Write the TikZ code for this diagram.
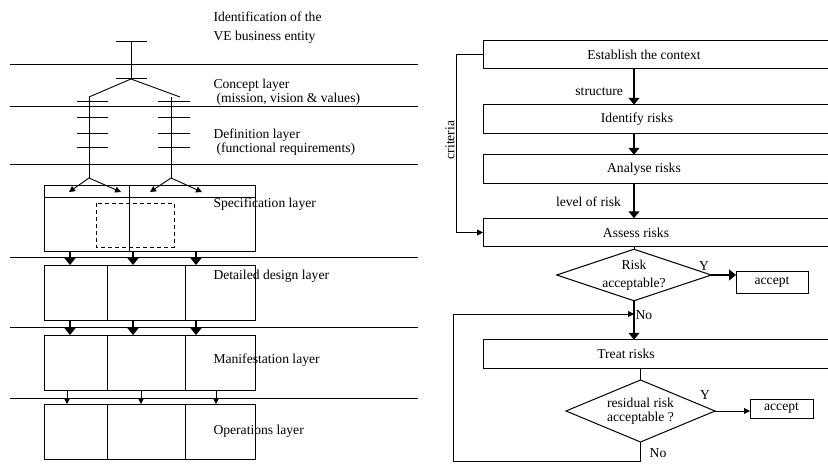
\documentclass[tikz,border=0pt]{standalone}
\usepackage{fontspec}
\setmainfont{Liberation Serif}
\usetikzlibrary{shapes.geometric, arrows.meta, positioning, calc}

\begin{document}
\begin{tikzpicture}[
    x=1pt, y=-1pt,
    font=\fontsize{13.6}{14}\selectfont,
    layerline/.style={line width=0.8pt},
    tree/.style={line width=0.9pt},
    cell/.style={draw, line width=1pt, anchor=north west, inner sep=0pt, outer sep=0pt, minimum height=55.5pt},
    stepbox/.style={draw, line width=1pt, minimum width=347pt, minimum height=28.5pt, inner sep=0pt, outer sep=0pt},
    decision/.style={draw, diamond, line width=1pt, aspect=3, inner sep=0pt, outer sep=0pt, align=center},
    acceptbox/.style={draw, line width=1pt, inner sep=0pt, outer sep=0pt},
    lbl/.style={inner sep=1pt},
    arrow/.style={-{Triangle[width=11pt,length=7pt]}, line width=1.3pt},
    smallarrow/.style={-{Triangle[width=6pt,length=6pt]}, line width=0.9pt}
]
    \useasboundingbox (0,0) rectangle (828,464);

    % Layer boundaries
    \foreach \y in {64,106,164,257,327,398}
        \draw[layerline] (10,\y) -- (418,\y);

    % Layer names
    \node[anchor=west, align=left] (ident) at (210,27.5) {Identification of the\\[5pt]VE business entity};
    \node[anchor=west, align=left] (concept) at (210,92) {Concept layer\\\hspace*{3pt}(mission, vision \& values)};
    \node[anchor=west, align=left] (defin) at (210,142) {Definition layer\\\hspace*{3pt}(functional requirements)};

    % Entity tree
    \coordinate (root) at (131,79);
    \coordinate (lbr) at (89,97);
    \coordinate (rbr) at (171,97);
    \coordinate (lend) at (89,178);
    \coordinate (rend) at (171,178);
    \draw[tree] (116,41) -- (147,41) (131,41) -- (root) (116,78) -- (147,78);
    \draw[tree] (lbr) -- (root) -- (180,97);
    \draw[tree] (lbr) -- (lend) (rbr) -- (rend);
    \foreach \y in {101,117,133,147}
        \draw[tree] (77,\y) -- (108,\y) (158,\y) -- (190,\y);
    \draw[smallarrow] (lend) -- ++(-20,14);
    \draw[smallarrow] (lend) -- ++(32,14);
    \draw[smallarrow] (rend) -- ++(-21,14);
    \draw[smallarrow] (rend) -- ++(31,14);

    % Specification block
    \node[cell, minimum width=211pt, minimum height=66pt] (spec) at (44,185) {};
    \coordinate (sdiv) at (129,0);
    \draw[tree] ([yshift=-12.5pt]spec.north west) -- ([yshift=-12.5pt]spec.north east);
    \draw[tree] (spec.north -| sdiv) -- (spec.south -| sdiv);
    \draw[line width=1pt, dash pattern=on 4pt off 3pt] (96,203) rectangle (174,247);
    \node[anchor=west] (specname) at (210,204) {Specification layer};

    % Lower layers
    \foreach \row/\y in {d/265, m/335, o/404} {
        \node[cell, minimum width=63pt] (\row1) at (44,\y) {};
        \node[cell, minimum width=78pt] (\row2) at (107,\y) {};
        \node[cell, minimum width=70pt] (\row3) at (185,\y) {};
    }
    \node[anchor=west] (detname) at (210,276) {Detailed design layer};
    \node[anchor=west] (manname) at (210,360) {Manifestation layer};
    \node[anchor=west] (opsname) at (210,431) {Operations layer};

    \foreach \i/\x/\z in {1/70/67, 2/133/141, 3/196/216} {
        \coordinate (ax\i) at (\x,0);
        \coordinate (bx\i) at (\z,0);
        \draw[arrow] (spec.south -| ax\i) -- (d\i.north -| ax\i);
        \draw[arrow] (d\i.south -| ax\i) -- (m\i.north -| ax\i);
        \draw[smallarrow] (m\i.south -| bx\i) -- (o\i.north -| bx\i);
    }

    % Risk process
    \coordinate (spine) at (634,0);
    \node[stepbox, label={[xshift=-12.5pt]center:Establish the context}] (ctx) at (656.5,54.5) {};
    \node[stepbox, label={[xshift=-19.5pt]center:Identify risks}] (idf) at (656.5,119) {};
    \node[stepbox, label={[xshift=-12.5pt]center:Analyse risks}] (ana) at (656.5,169) {};
    \node[stepbox, label={[xshift=-20.5pt]center:Assess risks}] (asr) at (656.5,232.5) {};
    \node[decision, minimum width=150pt, minimum height=48pt] (dia1) at (634,275) {Risk\\[4pt]acceptable?};
    \node[acceptbox, minimum width=72pt, minimum height=22pt] (acc1) at (772,282) {accept};
    \node[stepbox, label={[xshift=-30.5pt]center:Treat risks}] (trt) at (656.5,354) {};
    \node[decision, minimum width=149pt, minimum height=62pt] (dia2) at (640.5,411) {residual risk\\acceptable ?};
    \node[acceptbox, minimum width=63pt, minimum height=19pt] (acc2) at (781.5,408.5) {accept};

    \node[lbl] (y1) at (704,266) {Y};
    \node[lbl] (y2) at (705,395) {Y};
    \node[lbl] (no2) at (658,453) {No};

    \draw[arrow] (ctx.south -| spine) -- node[pos=0.63, left=7pt] (structlbl) {structure} (idf.north -| spine);
    \draw[arrow] (idf.south -| spine) -- (ana.north -| spine);
    \draw[arrow] (ana.south -| spine) -- node[pos=0.53, left=9pt] (levellbl) {level of risk} (asr.north -| spine);
    \draw[tree] (asr.south -| dia1.north) -- (dia1.north);
    \draw[arrow] (dia1.south) -- node[pos=0.37, right, lbl] (no1) {No} (trt.north -| dia1.south);
    \draw[arrow] (dia1.east) -- (dia1.east -| acc1.west);
    \draw[tree] (trt.south -| dia2.north) -- (dia2.north);
    \draw[smallarrow] (dia2.east) -- (dia2.east -| acc2.west);

    % Feedback loops
    \coordinate (loopcorner) at (453,314);
    \draw[smallarrow] (dia2.south) -- ++(0,19) -| (loopcorner) -- (loopcorner -| dia1.south);
    \draw[smallarrow] (ctx.west) -- ++(-27,0) |- node[pos=0.24, rotate=90, anchor=south, lbl] (critlbl) {criteria} (asr.west);

\end{tikzpicture}
\end{document}
